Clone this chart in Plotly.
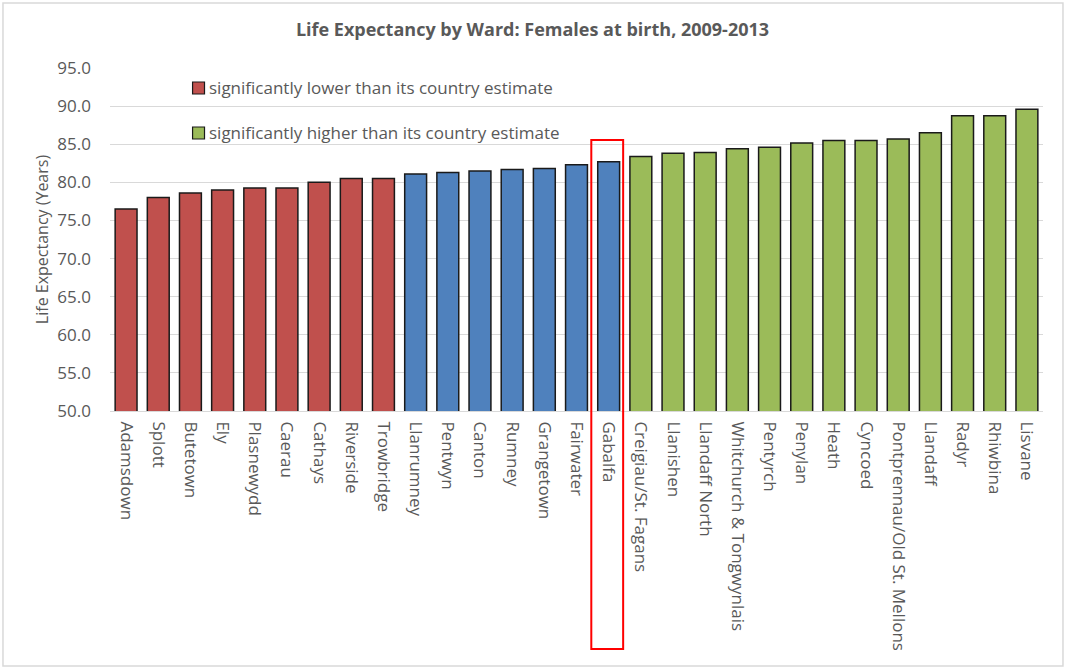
import plotly.graph_objects as go

wards = ["Adamsdown", "Splott", "Butetown", "Ely", "Plasnewydd", "Caerau", "Cathays",
         "Riverside", "Trowbridge", "Llanrumney", "Pentwyn", "Canton", "Rumney",
         "Grangetown", "Fairwater", "Gabalfa", "Creigiau/St. Fagans", "Llanishen",
         "Llandaff North", "Whitchurch & Tongwynlais", "Pentyrch", "Penylan", "Heath",
         "Cyncoed", "Pontprennau/Old St. Mellons", "Llandaff", "Radyr", "Rhiwbina", "Lisvane"]
life_exp = [76.5, 78.0, 78.6, 79.0, 79.25, 79.25, 80.0, 80.5, 80.5, 81.1, 81.3, 81.5, 81.7,
            81.8, 82.3, 82.7, 83.4, 83.8, 83.9, 84.4, 84.6, 85.15, 85.5, 85.5, 85.7, 86.5,
            88.75, 88.75, 89.6]
groups = ["low"] * 9 + ["avg"] * 7 + ["high"] * 13
group_colors = {"low": "#C0504D", "avg": "#4F81BD", "high": "#9BBB59"}
legend_labels = ["significantly lower than its country estimate",
                 "significantly higher than its country estimate"]
highlight = "Gabalfa"
y_ticks = [50, 55, 60, 65, 70, 75, 80, 85, 90, 95]

fig = go.Figure()
fig.add_trace(go.Bar(
    x=wards, y=life_exp,
    marker=dict(color=[group_colors[g] for g in groups],
                line=dict(color="#1a1a1a", width=1.5)),
    width=0.68, showlegend=False,
))

font_main = "Open Sans"
gray = "#595959"

# legend-like items
legend_y = [0.9417, 0.8105]
for lab, col, yp in zip(legend_labels, [group_colors["low"], group_colors["high"]], legend_y):
    fig.add_shape(type="rect", xref="paper", yref="paper",
                  x0=0.0885, x1=0.1013, y0=yp - 0.0175, y1=yp + 0.0175,
                  fillcolor=col, line=dict(color="#1a1a1a", width=1.2))
    fig.add_annotation(xref="paper", yref="paper", x=0.1045, y=yp, text=lab,
                       showarrow=False, xanchor="left", yanchor="middle",
                       font=dict(family=font_main, size=17, color=gray))

hi = wards.index(highlight)
fig.add_shape(type="rect", xref="x", yref="paper",
              x0=hi - 0.54, x1=hi + 0.45, y0=-0.694, y1=0.79,
              line=dict(color="#FF0000", width=2), fillcolor="rgba(0,0,0,0)")

# outer border
fig.add_shape(type="rect", xref="paper", yref="paper",
              x0=-0.1147, x1=1.0214, y0=-0.7434, y1=1.1895,
              line=dict(color="#D9D9D9", width=1.5), fillcolor="rgba(0,0,0,0)")

fig.update_layout(
    width=1065, height=668,
    margin=dict(l=110, r=22, t=68, b=257, autoexpand=False),
    paper_bgcolor="white", plot_bgcolor="white",
    title=dict(text="<b>Life Expectancy by Ward: Females at birth, 2009-2013</b>",
               x=0.5, xref="container", y=0.955, yref="container", yanchor="middle",
               xanchor="center",
               font=dict(family=font_main, size=18, color=gray)),
    font=dict(family=font_main, color=gray),
)
fig.update_xaxes(tickangle=90, tickfont=dict(size=17, color=gray, family=font_main),
                 showline=True, linecolor="#D9D9D9", linewidth=1, ticks="",
                 ticklabelstandoff=6,
                 range=[-0.5, len(wards) - 0.5], automargin=False)
fig.update_yaxes(range=[50, 95], tickvals=y_ticks, tickformat=".1f",
                 showgrid=True, gridcolor="#D9D9D9", gridwidth=1, zeroline=False,
                 tickfont=dict(size=17, color=gray, family=font_main),
                 title=dict(text="Life Expectancy (Years)", standoff=4,
                            font=dict(size=16, color=gray, family=font_main)),
                 ticks="", ticklabelstandoff=18, automargin=False)

fig.write_html("out.html", config={"displayModeBar": False},
               post_script="document.body.style.margin='0';document.body.style.padding='0';")
